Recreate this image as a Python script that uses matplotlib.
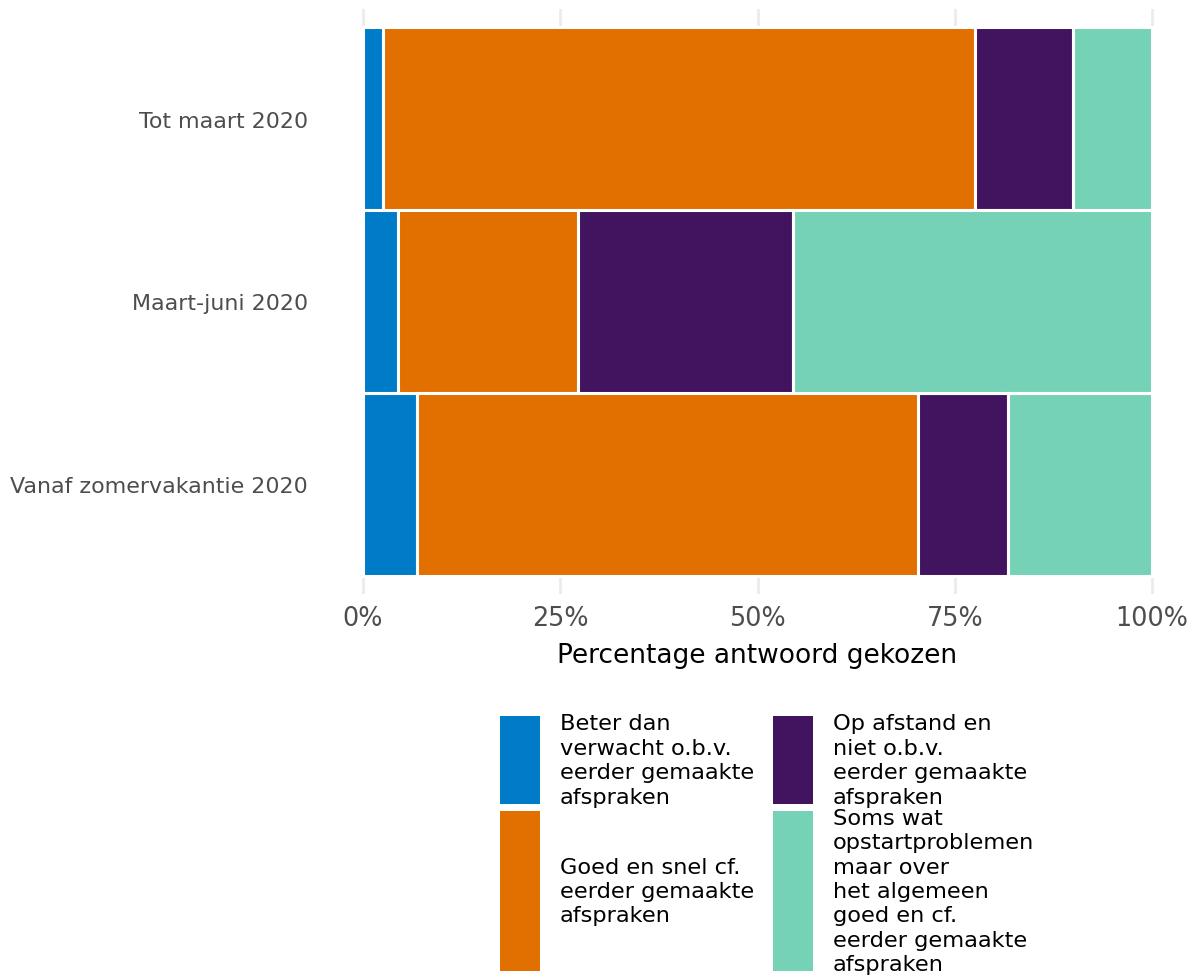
import numpy as np
import matplotlib
matplotlib.use("Agg")
import matplotlib.pyplot as plt
from matplotlib.patches import Rectangle

# categorieen (van boven naar onder) en percentages per antwoord
periodes = ["Tot maart 2020", "Maart-juni 2020", "Vanaf zomervakantie 2020"]
antwoorden = [
    "Beter dan\nverwacht o.b.v.\neerder gemaakte\nafspraken",
    "Goed en snel cf.\neerder gemaakte\nafspraken",
    "Op afstand en\nniet o.b.v.\neerder gemaakte\nafspraken",
    "Soms wat\nopstartproblemen\nmaar over\nhet algemeen\ngoed en cf.\neerder gemaakte\nafspraken",
]
beter = [2.5, 4.5, 6.8]
goed = [75.0, 22.7, 63.6]
afstand = [12.5, 27.3, 11.4]
soms = [10.0, 45.5, 18.2]
kleuren = ["#007BC7", "#E17000", "#42145F", "#76D2B6"]
xticks = [0, 25, 50, 75, 100]
xticklabels = ["0%", "25%", "50%", "75%", "100%"]

W, H = 1202, 979
fig = plt.figure(figsize=(W / 100, H / 100), dpi=100)
ax = fig.add_axes([323.5 / W, 1 - 595 / H, 868 / W, 585 / H])

y = np.arange(len(periodes))[::-1]  # bovenste categorie bovenaan
links = np.zeros(len(periodes))
for waarden, kleur in zip([beter, goed, afstand, soms], kleuren):
    ax.barh(y, waarden, left=links, height=1.0, color=kleur,
            edgecolor="white", linewidth=2.2)
    links = links + np.array(waarden)

ax.set_xlim(-5, 105)
ax.set_ylim(-0.6, 2.6)
ax.set_xticks(xticks)
ax.set_xticklabels(xticklabels)
ax.set_yticks(y)
ax.set_yticklabels(periodes)
ax.tick_params(axis="y", length=0, pad=11, labelsize=15.9, labelcolor="#4D4D4D")
ax.tick_params(axis="x", length=0, pad=8, labelsize=18.4, labelcolor="#4D4D4D")
ax.set_xlabel("Percentage antwoord gekozen", fontsize=19, color="black", labelpad=8)
ax.grid(axis="x", color="#EBEBEB", linewidth=1.9)
ax.grid(axis="y", visible=False)
ax.set_axisbelow(True)
for s in ax.spines.values():
    s.set_visible(False)

# legenda, met de hand in pixelcoordinaten
lax = fig.add_axes([0, 0, 1, 1])
lax.set_xlim(0, W)
lax.set_ylim(H, 0)
lax.axis("off")
kol_x = [500, 773]
rij_y = [(717, 805), (812, 972)]
posities = [(0, 0), (0, 1), (1, 0), (1, 1)]
for (k, r), tekst, kleur in zip(posities, antwoorden, kleuren):
    y0, y1 = rij_y[r]
    lax.add_patch(Rectangle((kol_x[k], y0), 40, y1 - y0, facecolor=kleur,
                            edgecolor="none"))
    lax.text(kol_x[k] + 60, (y0 + y1) / 2, tekst, fontsize=16.2, color="black",
             va="center", ha="left", linespacing=1.28)

fig.savefig("out.png", dpi=100)
